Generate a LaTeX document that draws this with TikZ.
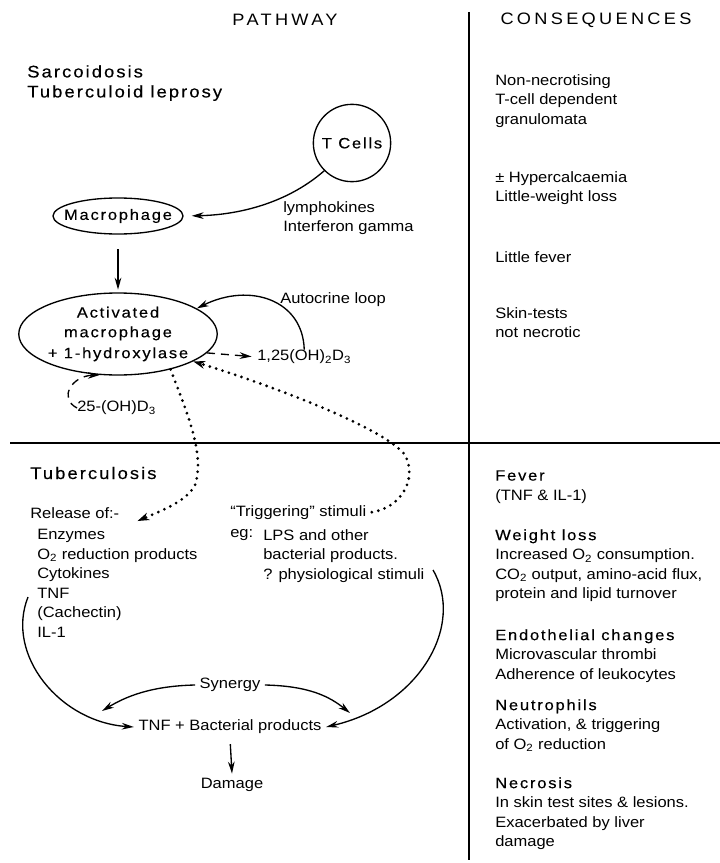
\documentclass[tikz,border=0pt]{standalone}
\usepackage{fontspec}
\setmainfont[FakeStretch=1.1]{Liberation Sans}
\newfontfamily\spacedfont[FakeStretch=1.1,LetterSpace=12,FakeBold=0.3]{Liberation Sans}
\newfontfamily\widefont[FakeStretch=1.1,LetterSpace=20]{Liberation Sans}
\usepackage{tikz}
\usetikzlibrary{shapes.geometric,arrows.meta,calc}
\newcommand{\bodytext}{\fontsize{11.25}{14.7}\selectfont}
\newcommand{\titletext}{\spacedfont\fontsize{12.6}{15}\selectfont}
\newcommand{\celltext}{\spacedfont\fontsize{11.25}{14.7}\selectfont}
\newcommand{\headtext}{\widefont\fontsize{12.4}{14}\selectfont}

\begin{document}
\begin{tikzpicture}[x=0.75pt,y=0.75pt,
    txt/.style={font=\bodytext, align=left, inner sep=0pt, anchor=north west},
    lbl/.style={font=\bodytext, anchor=west, inner sep=0pt},
    cell/.style={draw, line width=1pt, font=\celltext, inner sep=0pt},
    arr/.style={line width=1pt, -{Stealth[length=9pt,width=5pt]}},
    dashedarr/.style={arr, dash pattern=on 6pt off 4.5pt},
    dottedarr/.style={line width=2.3pt, line cap=round, dash pattern=on 0pt off 5pt, -{Stealth[length=9pt,width=6pt,line width=0pt]}}]
    \useasboundingbox (0,0) rectangle (720,-863);

    \node (path) [font=\headtext] at (285,-20) {PATHWAY};
    \node (cons) [font=\headtext] at (596,-20) {CONSEQUENCES};
    \draw[line width=1pt] (469,-12) -- (469,-860);
    \draw[line width=1pt] (10,-443) -- (720,-443);

    \node (sarc) [txt, font=\titletext] at (27,-65) {Sarcoidosis\\Tuberculoid leprosy};
    \node (tcells) [cell, circle, minimum size=58pt] at (352,-143) {T Cells};
    \node (macro) [cell, ellipse, inner xsep=-14pt, minimum width=97.5pt, minimum height=27pt] at (118,-216) {Macrophage};
    \node (actmac) [cell, ellipse, minimum width=137pt, minimum height=61.5pt, align=center] at (118,-334) {Activated\\macrophage\\[1pt]{\bodytext + 1-hydroxylase}};
    \node (lymph) [txt] at (283,-201) {lymphokines\\Interferon gamma};
    \node (auto) [font=\bodytext] at (333,-300) {Autocrine loop};
    \node (dia) [lbl] at (257,-357) {1,25(OH)\textsubscript{2}D\textsubscript{3}};
    \node (dib) [lbl] at (77,-408) {25-(OH)D\textsubscript{3}};

    \node (tb) [lbl, font=\titletext] at (30,-473) {Tuberculosis};
    \node (release) [lbl] at (30,-513) {Release of:-};
    \node (items) [txt] at (37,-529) {Enzymes\\O\textsubscript{2} reduction products\\Cytokines\\TNF\\(Cachectin)\\IL-1};
    \node (trig) [lbl] at (230,-513) {``Triggering'' stimuli};
    \node (eg) [lbl] at (230,-535) {eg:};
    \node (stim) [txt] at (263,-529) {LPS and other\\bacterial products.\\? physiological stimuli};
    \node (syn) [font=\bodytext] at (230,-685) {Synergy};
    \node (prod) [font=\bodytext] at (230,-727) {TNF + Bacterial products};
    \node (dmg) [font=\bodytext] at (232,-785) {Damage};
    \coordinate (tnfl) at (28,-597);
    \coordinate (physr) at (433,-570);
    \coordinate (synl) at (102,-711);
    \coordinate (synr) at (350,-713);

    \node (nn) [txt] at (495,-74) {Non-necrotising\\T-cell dependent\\granulomata};
    \node (hyp) [txt] at (495,-171) {± Hypercalcaemia\\Little-weight loss};
    \node (lf) [txt] at (495,-251) {Little fever};
    \node (skin) [txt] at (495,-307) {Skin-tests\\not necrotic};
    \node (fev) [txt] at (495,-470) {{\celltext Fever}\\(TNF \& IL-1)};
    \node (wl) [txt] at (495,-529) {{\celltext Weight loss}\\Increased O\textsubscript{2} consumption.\\CO\textsubscript{2} output, amino-acid flux,\\protein and lipid turnover};
    \node (endo) [txt] at (495,-629) {{\celltext Endothelial changes}\\Microvascular thrombi\\Adherence of leukocytes};
    \node (neut) [txt] at (495,-699) {{\celltext Neutrophils}\\Activation, \& triggering\\of O\textsubscript{2} reduction};
    \node (necr) [txt] at (495,-777) {{\celltext Necrosis}\\In skin test sites \& lesions.\\Exacerbated by liver\\damage};

    \draw[arr, shorten >=6pt] (tcells.225) .. controls (285,-205) and (235,-215) .. (macro.east);
    \draw[arr, shorten <=11pt, shorten >=2pt] (macro.south) -- (actmac.north);
    \draw[arr] (dia.north) .. controls (303,-300) and (250,-282) .. (actmac.18);
    \draw[dashedarr, shorten >=4pt] (actmac.-12) -- (dia.west);
    \draw[dashedarr] (dib.west) .. controls (58,-398) and (72,-376) .. (actmac.246);
    \draw[dottedarr] (actmac.-34) .. controls (188,-415) and (205,-455) .. (195,-485) .. controls (187,-500) and (168,-508) .. ($(release.east)+(18,-8)$);
    \draw[dottedarr, shorten <=4pt] (trig.east) .. controls (400,-508) and (418,-480) .. (405,-455) .. controls (385,-428) and (270,-385) .. (actmac.-20);
    \draw[arr] (tnfl) .. controls (5,-655) and (60,-722) .. (prod.west);
    \draw[arr] (physr) .. controls (465,-625) and (420,-705) .. (prod.east);
    \draw[arr] (syn.west) .. controls (150,-686) and (125,-697) .. (synl);
    \draw[arr] (syn.east) .. controls (310,-686) and (330,-697) .. (synr);
    \draw[arr, shorten <=4pt] (prod.south) -- (dmg.north);
\end{tikzpicture}
\end{document}
